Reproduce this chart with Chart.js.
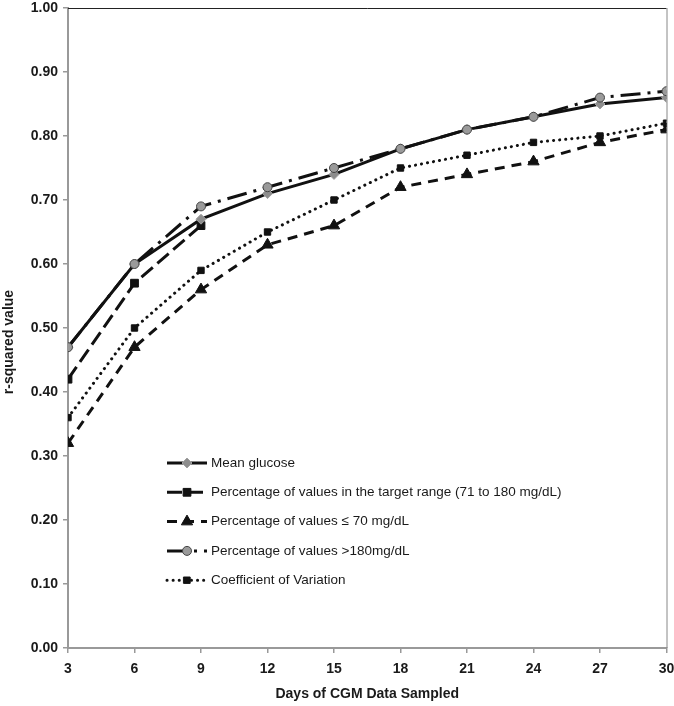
<!DOCTYPE html>
<html>
<head>
<meta charset="utf-8">
<script src="https://cdn.jsdelivr.net/npm/chart.js@4.4.0/dist/chart.umd.min.js"></script>
<style>
html, body { margin: 0; padding: 0; background: #fff; }
#wrap { width: 674px; height: 706px; }
</style>
</head>
<body>
<div id="wrap"><canvas id="myChart" width="674" height="706"></canvas></div>
<script>
'use strict';

var days = [3, 6, 9, 12, 15, 18, 21, 24, 27, 30];

var meanGlucose = [0.47, 0.60, 0.67, 0.71, 0.74, 0.78, 0.81, 0.83, 0.85, 0.86];
var targetRange = [0.42, 0.57, 0.66, null, null, null, null, null, null, null];
var below70 = [0.32, 0.47, 0.56, 0.63, 0.66, 0.72, 0.74, 0.76, 0.79, 0.81];
var above180 = [0.47, 0.60, 0.69, 0.72, 0.75, 0.78, 0.81, 0.83, 0.86, 0.87];
var coeffVar = [0.36, 0.50, 0.59, 0.65, 0.70, 0.75, 0.77, 0.79, 0.80, 0.82];

var seriesNames = [
  'Mean glucose',
  'Percentage of values in the target range (71 to 180 mg/dL)',
  'Percentage of values \u2264 70 mg/dL',
  'Percentage of values >180mg/dL',
  'Coefficient of Variation'
];

var yTicks = [0, 0.1, 0.2, 0.3, 0.4, 0.5, 0.6, 0.7, 0.8, 0.9, 1.0];

var yTitle = 'r-squared value';

function toPoints(values) {
  var pts = [];
  for (var i = 0; i < days.length; i++) {
    pts.push({ x: days[i], y: values[i] });
  }
  return pts;
}

var FONT = '"Liberation Sans", Arial, sans-serif';

// legend drawn inside the plot, line sample + marker
var innerLegend = {
  id: 'innerLegend',
  afterDraw: function(chart) {
    var ctx = chart.ctx;
    var area = chart.chartArea;
    var x0 = area.left + 99;
    var y0 = area.top + 455;
    ctx.save();
    for (var i = 0; i < chart.data.datasets.length; i++) {
      var ds = chart.data.datasets[i];
      var y = y0 + i * 29.3;
      ctx.strokeStyle = '#111';
      ctx.lineWidth = ds.borderWidth;
      ctx.lineCap = ds.borderCapStyle || 'butt';
      ctx.setLineDash(ds.borderDash || []);
      ctx.beginPath();
      ctx.moveTo(x0, y);
      ctx.lineTo(x0 + 40, y);
      ctx.stroke();
      ctx.setLineDash([]);
      ctx.fillStyle = ds.pointBackgroundColor;
      ctx.strokeStyle = ds.pointBorderColor;
      ctx.lineWidth = ds.pointBorderWidth;
      Chart.helpers.drawPoint(ctx, {
        pointStyle: ds.pointStyle,
        radius: ds.pointRadius,
        rotation: 0,
        borderWidth: ds.pointBorderWidth
      }, x0 + 20, y);
      ctx.fillStyle = '#1a1a1a';
      ctx.font = '13.5px ' + FONT;
      ctx.textBaseline = 'middle';
      ctx.textAlign = 'left';
      ctx.fillText(ds.label, x0 + 44, y);
    }
    ctx.restore();
  }
};

// top and right frame lines, y title
var frame = {
  id: 'frame',
  beforeDatasetsDraw: function(chart) {
    var ctx = chart.ctx;
    var a = chart.chartArea;
    ctx.save();
    ctx.lineWidth = 1;
    ctx.strokeStyle = '#222';
    ctx.beginPath();
    ctx.moveTo(a.left, a.top + 0.5);
    ctx.lineTo(a.right, a.top + 0.5);
    ctx.stroke();
    ctx.strokeStyle = '#888';
    ctx.beginPath();
    ctx.moveTo(a.right + 0.5, a.top);
    ctx.lineTo(a.right + 0.5, a.bottom);
    ctx.stroke();
    ctx.translate(9, (a.top + a.bottom) / 2 + 14);
    ctx.rotate(-Math.PI / 2);
    ctx.fillStyle = '#1a1a1a';
    ctx.font = 'bold 14px ' + FONT;
    ctx.textAlign = 'center';
    ctx.textBaseline = 'middle';
    ctx.fillText(yTitle, 0, 0);
    ctx.restore();
  }
};

var ctx = document.getElementById('myChart');

var myChart = new Chart(ctx, {
  type: 'line',
  data: {
    datasets: [{
      label: seriesNames[0],
      data: toPoints(meanGlucose),
      borderColor: '#111',
      borderWidth: 3,
      pointStyle: 'rectRot',
      pointRadius: 5,
      pointBackgroundColor: '#8d8d8d',
      pointBorderColor: '#a0a0a0',
      pointBorderWidth: 1,
      order: 1
    }, {
      label: seriesNames[1],
      data: toPoints(targetRange),
      borderColor: '#111',
      borderWidth: 3,
      borderDash: [15, 6],
      pointStyle: 'rect',
      pointRadius: 5.5,
      pointBackgroundColor: '#111',
      pointBorderColor: '#111',
      pointBorderWidth: 1,
      order: 2
    }, {
      label: seriesNames[2],
      data: toPoints(below70),
      borderColor: '#111',
      borderWidth: 3,
      borderDash: [10, 7],
      pointStyle: 'triangle',
      pointRadius: 6.5,
      pointBackgroundColor: '#111',
      pointBorderColor: '#111',
      pointBorderWidth: 1,
      order: 2
    }, {
      label: seriesNames[3],
      data: toPoints(above180),
      borderColor: '#111',
      borderWidth: 3,
      borderDash: [20, 7, 3, 7],
      pointStyle: 'circle',
      pointRadius: 4.5,
      pointBackgroundColor: '#9a9a9a',
      pointBorderColor: '#444',
      pointBorderWidth: 1,
      order: 0
    }, {
      label: seriesNames[4],
      data: toPoints(coeffVar),
      borderColor: '#111',
      borderWidth: 3,
      borderDash: [0.1, 6],
      borderCapStyle: 'round',
      pointStyle: 'rect',
      pointRadius: 4.5,
      pointBackgroundColor: '#111',
      pointBorderColor: '#111',
      pointBorderWidth: 1,
      order: 2
    }]
  },
  options: {
    responsive: false,
    animation: false,
    devicePixelRatio: 1,
    layout: { padding: { top: 8, right: 7, left: 0, bottom: 0 } },
    plugins: {
      legend: { display: false },
      tooltip: { enabled: false }
    },
    elements: { line: { tension: 0 } },
    scales: {
      x: {
        type: 'linear',
        min: days[0],
        max: days[days.length - 1],
        afterBuildTicks: function(scale) {
          scale.ticks = days.map(function(d) { return { value: d }; });
        },
        afterFit: function(scale) {
          scale.height = 58;
          scale.paddingLeft = 0;
          scale.paddingRight = 0;
        },
        grid: { drawOnChartArea: false, tickLength: 5, color: '#999', lineWidth: 1.5 },
        border: { color: '#999', width: 2 },
        ticks: {
          color: '#1a1a1a',
          padding: 8,
          maxRotation: 0,
          font: { family: FONT, size: 14, weight: 'bold' }
        },
        title: {
          display: true,
          text: 'Days of CGM Data Sampled',
          color: '#1a1a1a',
          padding: { top: 4, bottom: 3 },
          font: { family: FONT, size: 14, weight: 'bold' }
        }
      },
      y: {
        min: 0,
        max: 1,
        afterBuildTicks: function(scale) {
          scale.ticks = yTicks.map(function(v) { return { value: v }; });
        },
        afterFit: function(scale) {
          scale.width = 68;
          scale.paddingTop = 0;
          scale.paddingBottom = 0;
        },
        grid: { drawOnChartArea: false, tickLength: 5, color: '#999', lineWidth: 1.5 },
        border: { color: '#999', width: 2 },
        ticks: {
          color: '#1a1a1a',
          padding: 5,
          font: { family: FONT, size: 14, weight: 'bold' },
          callback: function(v) { return Number(v).toFixed(2); }
        }
      }
    }
  },
  plugins: [frame, innerLegend]
});
</script>
</body>
</html>
